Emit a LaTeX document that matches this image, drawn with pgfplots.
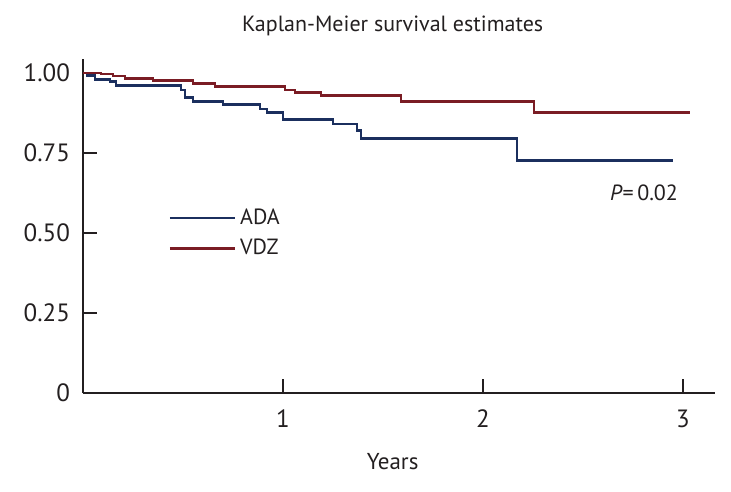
\documentclass[border=0pt]{standalone}
\usepackage{pgfplots}
\pgfplotsset{compat=1.18}
\usepackage{fontspec}
\setmainfont{PT Sans}
\definecolor{adablue}{HTML}{1B2F5E}
\definecolor{vdzred}{HTML}{7A1C24}
\definecolor{axgray}{HTML}{231F20}
\begin{document}
\begin{tikzpicture}
\path[use as bounding box] (-41.5pt,-49pt) rectangle (324pt,196.5pt);
\begin{axis}[
  at={(0,0)}, anchor=south west,
  scale only axis, width=316pt, height=167pt,
  xmin=0, xmax=3.16, ymin=0, ymax=1.044,
  axis lines*=left,
  axis line style={line width=1.3pt, color=axgray, -},
  xtick={1,2,3}, xticklabels={1,2,3},
  ytick={0,0.25,0.5,0.75,1}, yticklabels={0,0.25,0.50,0.75,1.00},
  tick align=inside, major tick length=7pt,
  tick style={line width=0.7pt, color=axgray},
  /pgf/number format/assume math mode=true,
  tick label style={font=\fontsize{12.5}{14}\selectfont, color=axgray},
  xticklabel style={yshift=-5pt},
  yticklabel style={xshift=-3pt},
  title={Kaplan-Meier survival estimates},
  title style={font=\fontsize{11}{13}\selectfont, color=axgray, at={(rel axis cs:0.49,1)}, anchor=center, yshift=10.5pt},
  xlabel={Years},
  xlabel style={font=\fontsize{11.5}{13}\selectfont, color=axgray, at={(rel axis cs:0.49,0)}, anchor=center, yshift=-34.5pt},
  legend style={at={(axis cs:0.425,0.59)}, anchor=north west, draw=none, fill=none, inner sep=0pt,
    font=\fontsize{11}{13}\selectfont, row sep=2pt, text=axgray},
  legend cell align=left,
  legend image code/.code={\draw[#1] (0pt,0pt) -- (32.5pt,0pt);},
]
\addplot[const plot, color=adablue, line width=1.4pt] coordinates {
(0,1.0) (0.02,0.992) (0.06,0.981) (0.135,0.973) (0.165,0.96) (0.49,0.947)
(0.51,0.924) (0.55,0.91) (0.70,0.902) (0.885,0.888) (0.92,0.876) (1.0,0.856)
(1.25,0.841) (1.37,0.82) (1.39,0.796) (2.17,0.727) (2.95,0.727)
};
\addlegendentry{ADA}
\addplot[const plot, color=vdzred, line width=1.4pt] coordinates {
(0,1.0) (0.09,0.997) (0.15,0.991) (0.21,0.984) (0.35,0.976) (0.55,0.967)
(0.66,0.958) (1.01,0.947) (1.06,0.94) (1.19,0.929) (1.59,0.911)
(2.255,0.8775) (3.035,0.8775)
};
\addlegendentry{VDZ}
\node[font=\fontsize{11}{13}\selectfont, text=axgray, anchor=center] at (axis cs:2.805,0.625) {\textit{P}=\,0.02};
\end{axis}
\end{tikzpicture}
\end{document}
